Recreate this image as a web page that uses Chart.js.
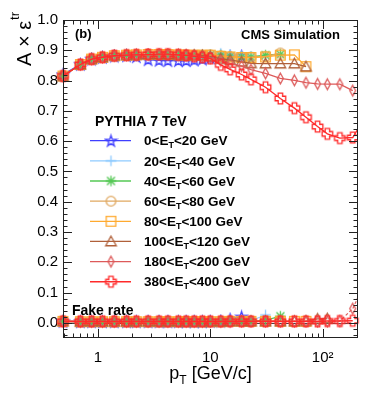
<!DOCTYPE html>
<html>
<head>
<meta charset="utf-8">
<script src="https://cdn.jsdelivr.net/npm/chart.js@4"></script>
<style>
  html, body { margin: 0; padding: 0; background: #fff; }
  canvas { display: block; }
</style>
</head>
<body>
<canvas id="chart" width="374" height="394"></canvas>
<script>
// pT bin centres (last one is past the axis end, only for the clipped curves)
const ptBins = [0.49, 0.7, 0.88, 1.1, 1.4, 1.8, 2.2, 2.8, 3.5, 4.2, 5.2, 6.1, 7.2, 8.5, 10, 12.4, 15, 19, 23, 31, 42, 56, 71, 90, 110, 142, 185, 235];

const etRanges = [[0, 20], [20, 40], [40, 60], [60, 80], [80, 100], [100, 120], [180, 200], [380, 400]];

// A x eff per ET bin
const eff0to20 = [0.820, 0.854, 0.871, 0.877, 0.881, 0.882, 0.879, 0.869, 0.867, 0.866, 0.866, 0.866, 0.868, 0.871, 0.875, 0.879, 0.880, 0.881];
const eff20to40 = [0.815, 0.853, 0.871, 0.877, 0.882, 0.884, 0.885, 0.886, 0.886, 0.886, 0.885, 0.884, 0.884, 0.884, 0.885, 0.890, 0.886, 0.882, 0.880, 0.880];
const eff40to60 = [0.815, 0.853, 0.871, 0.877, 0.882, 0.884, 0.885, 0.886, 0.886, 0.886, 0.885, 0.884, 0.884, 0.884, 0.885, 0.884, 0.880, 0.878, 0.878, 0.884, 0.887];
const eff60to80 = [0.815, 0.853, 0.871, 0.877, 0.882, 0.884, 0.885, 0.886, 0.886, 0.886, 0.885, 0.884, 0.884, 0.884, 0.885, 0.882, 0.879, 0.877, 0.877, 0.880, 0.891];
const eff80to100 = [0.815, 0.853, 0.871, 0.877, 0.882, 0.884, 0.885, 0.886, 0.886, 0.886, 0.885, 0.884, 0.884, 0.884, 0.884, 0.880, 0.878, 0.876, 0.876, 0.878, 0.884, 0.885, 0.846];
const eff100to120 = [0.815, 0.853, 0.871, 0.877, 0.882, 0.884, 0.885, 0.886, 0.886, 0.886, 0.885, 0.884, 0.884, 0.883, 0.880, 0.872, 0.868, 0.862, 0.857, 0.856, 0.856, 0.856, 0.846];
const eff180to200 = [0.815, 0.853, 0.871, 0.877, 0.882, 0.884, 0.885, 0.886, 0.886, 0.886, 0.885, 0.884, 0.882, 0.878, 0.875, 0.865, 0.857, 0.848, 0.836, 0.824, 0.807, 0.801, 0.793, 0.789, 0.788, 0.788, 0.767];
const eff380to400 = [0.815, 0.853, 0.871, 0.877, 0.882, 0.884, 0.885, 0.886, 0.887, 0.887, 0.885, 0.883, 0.880, 0.877, 0.873, 0.852, 0.837, 0.820, 0.804, 0.778, 0.741, 0.709, 0.679, 0.648, 0.624, 0.610, 0.612, 0.677];

// fake rate per ET bin
const fake0to20 = [0.005, 0.004, 0.004, 0.004, 0.004, 0.004, 0.004, 0.004, 0.004, 0.004, 0.004, 0.004, 0.004, 0.004, 0.005, 0.006, 0.012, 0.020];
const fake20to40 = [0.005, 0.004, 0.004, 0.004, 0.004, 0.004, 0.004, 0.004, 0.004, 0.004, 0.004, 0.004, 0.004, 0.004, 0.004, 0.005, 0.005, 0.005, 0.007, 0.026];
const fake40to60 = [0.005, 0.004, 0.004, 0.004, 0.004, 0.004, 0.004, 0.004, 0.004, 0.004, 0.004, 0.004, 0.004, 0.004, 0.004, 0.005, 0.005, 0.005, 0.005, 0.008, 0.022];
const fake60to80 = [0.005, 0.004, 0.004, 0.004, 0.004, 0.004, 0.004, 0.004, 0.004, 0.004, 0.004, 0.004, 0.004, 0.004, 0.004, 0.004, 0.005, 0.005, 0.005, 0.005, 0.006];
const fake80to100 = [0.005, 0.004, 0.004, 0.004, 0.004, 0.004, 0.004, 0.004, 0.004, 0.004, 0.004, 0.004, 0.004, 0.004, 0.004, 0.004, 0.005, 0.005, 0.005, 0.005, 0.005, 0.005, 0.005];
const fake100to120 = [0.005, 0.004, 0.004, 0.004, 0.004, 0.004, 0.004, 0.004, 0.004, 0.004, 0.004, 0.004, 0.004, 0.004, 0.004, 0.004, 0.005, 0.005, 0.005, 0.005, 0.005, 0.005, 0.006, 0.013, 0.014];
const fake180to200 = [0.005, 0.004, 0.004, 0.004, 0.004, 0.004, 0.004, 0.004, 0.004, 0.004, 0.004, 0.004, 0.004, 0.004, 0.004, 0.004, 0.004, 0.005, 0.005, 0.005, 0.005, 0.005, 0.005, 0.005, 0.005, 0.006, 0.047, 0.130];
const fake380to400 = [0.005, 0.005, 0.005, 0.005, 0.005, 0.005, 0.005, 0.005, 0.005, 0.005, 0.005, 0.005, 0.005, 0.005, 0.005, 0.005, 0.005, 0.005, 0.005, 0.005, 0.005, 0.005, 0.005, 0.005, 0.006, 0.006, 0.007];

const yTicks = [0, 0.1, 0.2, 0.3, 0.4, 0.5, 0.6, 0.7, 0.8, 0.9, 1.0];
const xTicks = [1, 10, 100];

const effs = [eff0to20, eff20to40, eff40to60, eff60to80, eff80to100, eff100to120, eff180to200, eff380to400];
const fakes = [fake0to20, fake20to40, fake40to60, fake60to80, fake80to100, fake100to120, fake180to200, fake380to400];

const colors = ['#3f3fff', '#8fcbff', '#55c855', '#e0a860', '#ffaa30', '#b0603a', '#dd5a5a', '#ff2a2a'];
const shapes = ['star', 'plus', 'asterisk', 'circle', 'square', 'triangle', 'diamond', 'opencross'];

const FONT = "'Liberation Sans', Arial, Helvetica, sans-serif";

function makeMarker(shape, color) {
    const r = 5.3;
    const size = 15;
    const c = document.createElement('canvas');
    c.width = size; c.height = size;
    const g = c.getContext('2d');
    const m = size / 2;
    g.strokeStyle = color;
    g.lineWidth = 1.3;
    g.beginPath();
    if (shape === 'star') {
        for (let i = 0; i < 10; i++) {
            const a = -Math.PI / 2 + i * Math.PI / 5;
            const rr = i % 2 ? r * 0.42 : r + 0.5;
            const px = m + rr * Math.cos(a), py = m + rr * Math.sin(a) + 0.5;
            i ? g.lineTo(px, py) : g.moveTo(px, py);
        }
        g.closePath();
    } else if (shape === 'plus') {
        g.moveTo(m - r, m); g.lineTo(m + r, m);
        g.moveTo(m, m - r); g.lineTo(m, m + r);
    } else if (shape === 'asterisk') {
        g.moveTo(m - r, m); g.lineTo(m + r, m);
        g.moveTo(m, m - r); g.lineTo(m, m + r);
        const d = r * 0.75;
        g.moveTo(m - d, m - d); g.lineTo(m + d, m + d);
        g.moveTo(m - d, m + d); g.lineTo(m + d, m - d);
    } else if (shape === 'circle') {
        g.arc(m, m, r - 0.5, 0, Math.PI * 2);
    } else if (shape === 'square') {
        g.rect(m - r + 0.5, m - r + 0.5, 2 * r - 1, 2 * r - 1);
    } else if (shape === 'triangle') {
        g.moveTo(m, m - r); g.lineTo(m + r, m + r * 0.8); g.lineTo(m - r, m + r * 0.8);
        g.closePath();
    } else if (shape === 'diamond') {
        g.moveTo(m, m - r); g.lineTo(m + r * 0.55, m); g.lineTo(m, m + r); g.lineTo(m - r * 0.55, m);
        g.closePath();
    } else if (shape === 'opencross') {
        const w = r * 0.42;
        g.moveTo(m - w, m - r); g.lineTo(m + w, m - r); g.lineTo(m + w, m - w);
        g.lineTo(m + r, m - w); g.lineTo(m + r, m + w); g.lineTo(m + w, m + w);
        g.lineTo(m + w, m + r); g.lineTo(m - w, m + r); g.lineTo(m - w, m + w);
        g.lineTo(m - r, m + w); g.lineTo(m - r, m - w); g.lineTo(m - w, m - w);
        g.closePath();
    }
    g.stroke();
    return c;
}

const markers = shapes.map((s, k) => makeMarker(s, colors[k]));

function toPoints(arr) {
    return arr.map((v, i) => ({ x: ptBins[i], y: v }));
}

const datasets = [];
effs.forEach((arr, k) => {
    datasets.push({
        data: toPoints(arr),
        borderColor: colors[k],
        borderWidth: 1.3,
        pointStyle: markers[k],
        pointRadius: 5,
        order: 7 - k,
        clip: k === 7 ? { left: 10, top: 10, bottom: 10, right: 0 } : false
    });
});
fakes.forEach((arr, k) => {
    datasets.push({
        data: toPoints(arr),
        borderColor: colors[k],
        borderWidth: k === 7 ? 1.6 : 1.2,
        borderDash: k === 6 ? [3, 2] : [],
        pointStyle: markers[k],
        pointRadius: 5,
        order: 7 - k,
        clip: k === 6 ? { left: 10, top: 10, bottom: 10, right: 0 } : false
    });
});

// frame, inner ticks, texts and legend the ROOT way
const decor = {
    id: 'decor',
    beforeDatasetsDraw(chart) {
        const { ctx, chartArea: a, scales: { y } } = chart;
        const y0 = Math.round(y.getPixelForValue(0)) + 0.5;
        ctx.save();
        ctx.strokeStyle = '#444';
        ctx.lineWidth = 1;
        ctx.beginPath(); ctx.moveTo(a.left, y0); ctx.lineTo(a.right, y0); ctx.stroke();
        ctx.restore();
    },
    afterDraw(chart) {
        const { ctx, chartArea: a, scales: { x, y } } = chart;
        ctx.save();
        ctx.strokeStyle = '#222';
        ctx.lineWidth = 1;
        ctx.strokeRect(a.left + 0.5, a.top + 0.5, a.right - a.left - 1, a.bottom - a.top - 1);

        ctx.beginPath();
        for (let i = -2; i <= 50; i++) {
            const v = i * 0.02;
            const py = Math.round(y.getPixelForValue(v)) + 0.5;
            const len = i % 5 === 0 ? 9 : 4.5;
            ctx.moveTo(a.left, py); ctx.lineTo(a.left + len, py);
            ctx.moveTo(a.right, py); ctx.lineTo(a.right - len, py);
        }
        [0.1, 1, 10, 100].forEach(d => {
            for (let j = 1; j <= 9; j++) {
                const v = d * j;
                if (v < x.min || v > x.max) continue;
                const px = Math.round(x.getPixelForValue(v)) + 0.5;
                const len = j === 1 ? 9 : 4.5;
                ctx.moveTo(px, a.bottom); ctx.lineTo(px, a.bottom - len);
                ctx.moveTo(px, a.top); ctx.lineTo(px, a.top + len);
            }
        });
        ctx.stroke();

        ctx.fillStyle = '#000';
        ctx.textBaseline = 'alphabetic';
        ctx.font = 'bold 13px ' + FONT;
        ctx.textAlign = 'left';
        ctx.fillText('(b)', 75, 38);
        ctx.textAlign = 'right';
        ctx.fillText('CMS Simulation', 340, 39);
        ctx.textAlign = 'left';
        ctx.font = 'bold 14px ' + FONT;
        ctx.fillText('Fake rate', 72, 315);
        ctx.fillText('PYTHIA 7 TeV', 95, 126);

        // legend
        etRanges.forEach((r, k) => {
            const cy = 140.7 + k * 20.15;
            ctx.strokeStyle = colors[k];
            ctx.lineWidth = 1.3;
            ctx.beginPath(); ctx.moveTo(90, cy); ctx.lineTo(131, cy); ctx.stroke();
            ctx.drawImage(markers[k], 111 - 7.5, cy - 7.5);
            let tx = 144;
            const base = cy + 4.7;
            ctx.font = 'bold 13.5px ' + FONT;
            const s1 = r[0] + '<E';
            ctx.fillText(s1, tx, base); tx += ctx.measureText(s1).width;
            ctx.font = 'bold 9px ' + FONT;
            ctx.fillText('T', tx, base + 3); tx += ctx.measureText('T').width;
            ctx.font = 'bold 13.5px ' + FONT;
            ctx.fillText('<' + r[1] + ' GeV', tx, base);
        });

        // x title
        ctx.font = '18px ' + FONT;
        const wp = ctx.measureText('p').width;
        const wr = ctx.measureText(' [GeV/c]').width;
        ctx.font = '12px ' + FONT;
        const wt = ctx.measureText('T').width;
        let tx = (a.left + a.right) / 2 - (wp + wt + wr) / 2;
        ctx.font = '18px ' + FONT;
        ctx.fillText('p', tx, 379); tx += wp;
        ctx.font = '12px ' + FONT;
        ctx.fillText('T', tx, 384); tx += wt;
        ctx.font = '18px ' + FONT;
        ctx.fillText(' [GeV/c]', tx, 379);

        // y title
        ctx.translate(31, 0);
        ctx.rotate(-Math.PI / 2);
        ctx.font = '20px ' + FONT;
        const main = 'A \u00d7 \u03b5';
        const wm = ctx.measureText(main).width;
        const u0 = -66;
        ctx.fillText(main, u0, 0);
        ctx.font = '13px ' + FONT;
        ctx.fillText('tr', u0 + wm + 1, -12);
        ctx.restore();
    }
};

const chart = document.getElementById('chart');

const ctx = new Chart(chart, {
    type: 'line',
    data: { datasets: datasets },
    options: {
        responsive: false,
        animation: false,
        layout: { padding: { top: 20, right: 16, left: 0, bottom: 0 } },
        plugins: {
            legend: { display: false },
            tooltip: { enabled: false }
        },
        scales: {
            x: {
                type: 'logarithmic',
                min: 0.49,
                max: 206,
                grid: { display: false, drawTicks: false },
                border: { display: false },
                afterBuildTicks: s => { s.ticks = xTicks.map(v => ({ value: v })); },
                afterFit: s => { s.height = 56; },
                ticks: {
                    autoSkip: false,
                    maxRotation: 0,
                    padding: 11,
                    color: '#000',
                    font: { family: FONT, size: 15 },
                    callback: v => (v === 100 ? '10\u00b2' : String(v))
                }
            },
            y: {
                min: -0.05,
                max: 1.0,
                grid: { display: false, drawTicks: false },
                border: { display: false },
                afterBuildTicks: s => { s.ticks = yTicks.map(v => ({ value: v })); },
                afterFit: s => { s.width = 63; },
                ticks: {
                    padding: 5,
                    color: '#000',
                    font: { family: FONT, size: 15 },
                    callback: v => v.toFixed(1)
                }
            }
        }
    },
    plugins: [decor]
});
</script>
</body>
</html>
